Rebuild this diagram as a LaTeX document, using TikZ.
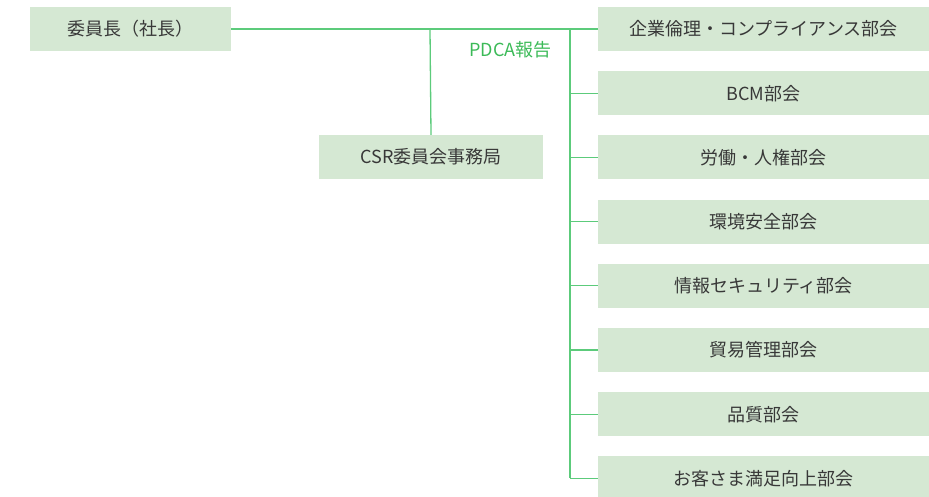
\documentclass[tikz,border=0pt]{standalone}
\usepackage{fontspec}
\setmainfont{Noto Sans CJK JP}
\usetikzlibrary{positioning}
\definecolor{boxgreen}{HTML}{D5E8D3}
\definecolor{linegreen}{HTML}{5CCB7B}
\definecolor{labelgreen}{HTML}{3CBA58}
\definecolor{textgray}{HTML}{383838}

\begin{document}
\begin{tikzpicture}[
    x=1pt, y=-1pt,
    node distance=19.8pt,
    box/.style={fill=boxgreen, minimum height=44pt, inner sep=0pt, text=textgray, font=\fontsize{18}{20}\selectfont},
    dept/.style={box, minimum width=331pt},
    link/.style={draw=linegreen, line width=1.3pt},
]
    \useasboundingbox (0,0) rectangle (929,496);

    % Chair and secretariat
    \node [box, minimum width=201pt] (chair) at (130.5,29) {委員長（社長）};
    \node [box, minimum width=224pt] (csr) at (431,157) {CSR委員会事務局};

    % Subcommittees
    \node [dept] (d1) at (763.5,29) {企業倫理・コンプライアンス部会};
    \node [dept, below=of d1] (d2) {BCM部会};
    \node [dept, below=of d2] (d3) {労働・人権部会};
    \node [dept, below=of d3] (d4) {環境安全部会};
    \node [dept, below=of d4] (d5) {情報セキュリティ部会};
    \node [dept, below=of d5] (d6) {貿易管理部会};
    \node [dept, below=of d6] (d7) {品質部会};
    \node [dept, below=of d7] (d8) {お客さま満足向上部会};

    % Label
    \node [text=labelgreen, font=\fontsize{18}{20}\selectfont] (pdca) at (510.5,50) {PDCA報告};

    % Lines
    \coordinate (jn) at (430,29);
    \coordinate (bus) at (570,29);
    \draw [link] (chair.east) -- (d1.west);
    \draw [link] (jn) -- (csr.north);
    \draw [link] (bus) -- (bus |- d8.west);
    \foreach \d in {d2,d3,d4,d5,d6,d7,d8}
        \draw [link] (bus |- \d.west) -- (\d.west);

\end{tikzpicture}
\end{document}
